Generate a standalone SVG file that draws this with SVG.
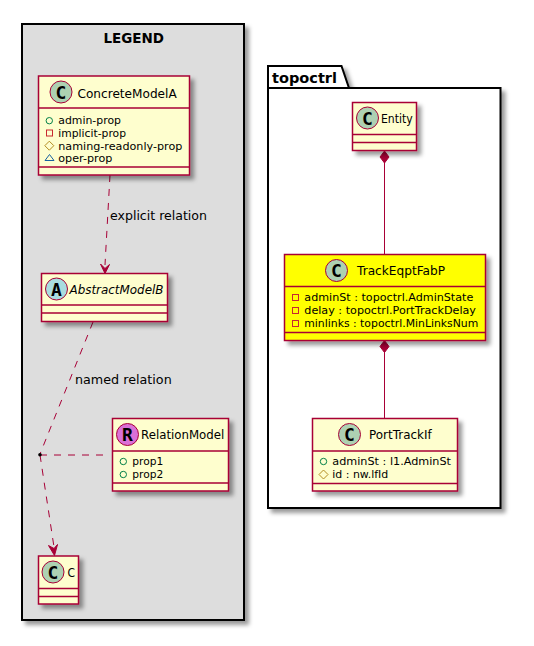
<svg xmlns="http://www.w3.org/2000/svg" width="534" height="646" viewBox="0 0 534 646">
<style>
text{font-family:"DejaVu Sans",sans-serif;fill:#000}
.name{font-size:13px}
.m{font-size:11px}
.b{fill:#FEFECE;stroke:#A80036;stroke-width:1.5}
.l{stroke:#A80036;stroke-width:1.5;fill:none}
.c{stroke:#A80036;stroke-width:1;fill:none}
.d{stroke-dasharray:7,7}
.h{stroke:#A80036;stroke-width:1;fill:#A80036}
.ci{stroke:#A80036;stroke-width:1}
.g{font-family:"DejaVu Sans Mono",monospace;font-weight:bold;font-size:18px;text-anchor:middle}
.pk{fill:none;stroke:#000;stroke-width:2}
</style>
<defs>
<filter id="s" x="-20%" y="-20%" width="150%" height="150%"><feDropShadow dx="4" dy="4" stdDeviation="2" flood-color="#000" flood-opacity="0.4"/></filter>
</defs>
<g id="legend">
<rect x="22" y="24" width="222" height="596" fill="#DDDDDD" stroke="#000" stroke-width="2" filter="url(#s)"/>
<text x="103.500" y="43" font-size="14" font-weight="bold" textLength="60.500" lengthAdjust="spacingAndGlyphs">LEGEND</text>
</g>
<g id="topoctrl">
<path d="M268 88V66H341.500L349 88H500.500V508H268Z" fill="#fff" stroke="#000" stroke-width="2" filter="url(#s)"/>
<path class="pk" d="M268 88H349"/>
<text x="272" y="83" font-size="14" font-weight="bold" textLength="65" lengthAdjust="spacingAndGlyphs">topoctrl</text>
</g>
<g id="connectors">
<path class="c d" d="M110 175L105 265"/>
<path class="h" d="M100.500 264L105 273.500L109.500 264.500L105 268.500Z"/>
<path class="c d" d="M93 322L40 454"/>
<path class="c d" d="M40 455L54 547"/>
<path class="h" d="M48.500 545.500L54.500 555.500L57.500 544.500L54 548.500Z"/>
<path class="c d" d="M40 455H107"/>
<circle cx="40" cy="454.700" r="1.800" fill="#000"/>
<path class="c" d="M384.500 150V254.500"/>
<path class="h" d="M384.500 151L389 157L384.500 163L380 157Z"/>
<path class="c" d="M384.500 341V418"/>
<path class="h" d="M384.500 340.500L389 346.500L384.500 352.500L380 346.500Z"/>
<text class="name" x="110" y="220" textLength="97" lengthAdjust="spacingAndGlyphs">explicit relation</text>
<text class="name" x="75" y="384" textLength="96.700" lengthAdjust="spacingAndGlyphs">named relation</text>
</g>
<g id="ConcreteModelA">
<rect class="b" x="38.500" y="76" width="151" height="99" filter="url(#s)"/>
<path class="l" d="M38.500 108H189.500M38.500 167H189.500"/>
<circle class="ci" cx="61" cy="92" r="11" fill="#ADD1B2"/><text class="g" x="61" y="98.500">C</text>
<text class="name" x="77.500" y="97.500" textLength="99.200" lengthAdjust="spacingAndGlyphs">ConcreteModelA</text>
<circle cx="49.300" cy="120.700" r="3.200" fill="none" stroke="#038048"/>
<text class="m" x="58.300" y="123.500" textLength="62.700" lengthAdjust="spacingAndGlyphs">admin-prop</text>
<rect x="46.500" y="130" width="6" height="6" fill="none" stroke="#C82930"/>
<text class="m" x="58.300" y="136.500" textLength="67.700" lengthAdjust="spacingAndGlyphs">implicit-prop</text>
<path d="M49.300 141.200L53.800 145.700L49.300 150.200L44.800 145.700Z" fill="none" stroke="#B38D22"/>
<text class="m" x="58.300" y="149.500" textLength="124" lengthAdjust="spacingAndGlyphs">naming-readonly-prop</text>
<path d="M49.500 154.500L54 160.500H45Z" fill="none" stroke="#1963A0"/>
<text class="m" x="58.300" y="162" textLength="54" lengthAdjust="spacingAndGlyphs">oper-prop</text>
</g>
<g id="AbstractModelB">
<rect class="b" x="41.500" y="273.500" width="126" height="48" filter="url(#s)"/>
<path class="l" d="M41.500 305H167.500M41.500 313H167.500"/>
<circle class="ci" cx="56.500" cy="289" r="11" fill="#A9DCDF"/><text class="g" x="56.500" y="295.500">A</text>
<text class="name" x="69.500" y="294" font-style="italic" textLength="94" lengthAdjust="spacingAndGlyphs">AbstractModelB</text>
</g>
<g id="RelationModel">
<rect class="b" x="112.500" y="418.500" width="116" height="72.500" filter="url(#s)"/>
<path class="l" d="M112.500 451H228.500M112.500 483H228.500"/>
<circle class="ci" cx="127.500" cy="434.500" r="11" fill="#DA70D6"/><text class="g" x="127.500" y="441">R</text>
<text class="name" x="141" y="439" textLength="83.300" lengthAdjust="spacingAndGlyphs">RelationModel</text>
<circle cx="123.300" cy="461.500" r="3.200" fill="none" stroke="#038048"/>
<text class="m" x="132.300" y="465" textLength="31" lengthAdjust="spacingAndGlyphs">prop1</text>
<circle cx="123.300" cy="474.500" r="3.200" fill="none" stroke="#038048"/>
<text class="m" x="132.300" y="478" textLength="31" lengthAdjust="spacingAndGlyphs">prop2</text>
</g>
<g id="C">
<rect class="b" x="38.500" y="556" width="40" height="48" filter="url(#s)"/>
<path class="l" d="M38.500 588.500H78.500M38.500 596.500H78.500"/>
<circle class="ci" cx="53" cy="572" r="11" fill="#ADD1B2"/><text class="g" x="53" y="578.500">C</text>
<text class="name" x="67.500" y="577" textLength="7.500" lengthAdjust="spacingAndGlyphs">C</text>
</g>
<g id="Entity">
<rect class="b" x="352.500" y="102.500" width="64" height="48" filter="url(#s)"/>
<path class="l" d="M352.500 134.500H416.500M352.500 142.500H416.500"/>
<circle class="ci" cx="367.500" cy="118" r="11" fill="#ADD1B2"/><text class="g" x="367.500" y="124.500">C</text>
<text class="name" x="381" y="123.300" textLength="31.700" lengthAdjust="spacingAndGlyphs">Entity</text>
</g>
<g id="TrackEqptFabP">
<rect class="b" style="fill:#FFFF00" x="284.500" y="254.500" width="201" height="86" filter="url(#s)"/>
<path class="l" d="M284.500 286.500H485.500M284.500 332.500H485.500"/>
<circle class="ci" cx="336.500" cy="270.500" r="11" fill="#ADD1B2"/><text class="g" x="336.500" y="277">C</text>
<text class="name" x="357" y="275" textLength="88" lengthAdjust="spacingAndGlyphs">TrackEqptFabP</text>
<rect x="292.500" y="294.500" width="6" height="6" fill="none" stroke="#C82930"/>
<text class="m" x="304.300" y="301" textLength="169" lengthAdjust="spacingAndGlyphs">adminSt : topoctrl.AdminState</text>
<rect x="292.500" y="307.500" width="6" height="6" fill="none" stroke="#C82930"/>
<text class="m" x="304.300" y="314" textLength="171.700" lengthAdjust="spacingAndGlyphs">delay : topoctrl.PortTrackDelay</text>
<rect x="292.500" y="320.500" width="6" height="6" fill="none" stroke="#C82930"/>
<text class="m" x="304.300" y="327" textLength="174" lengthAdjust="spacingAndGlyphs">minlinks : topoctrl.MinLinksNum</text>
</g>
<g id="PortTrackIf">
<rect class="b" x="312.500" y="418.500" width="145" height="72.500" filter="url(#s)"/>
<path class="l" d="M312.500 451H457.500M312.500 483.500H457.500"/>
<circle class="ci" cx="349.500" cy="434.500" r="11" fill="#ADD1B2"/><text class="g" x="349.500" y="441">C</text>
<text class="name" x="369" y="439" textLength="62.700" lengthAdjust="spacingAndGlyphs">PortTrackIf</text>
<circle cx="323.500" cy="461.500" r="3.200" fill="none" stroke="#038048"/>
<text class="m" x="332.300" y="465" textLength="118.700" lengthAdjust="spacingAndGlyphs">adminSt : l1.AdminSt</text>
<path d="M323.500 470L328 474.500L323.500 479L319 474.500Z" fill="none" stroke="#B38D22"/>
<text class="m" x="332.300" y="478" textLength="56" lengthAdjust="spacingAndGlyphs">id : nw.lfId</text>
</g>
</svg>
